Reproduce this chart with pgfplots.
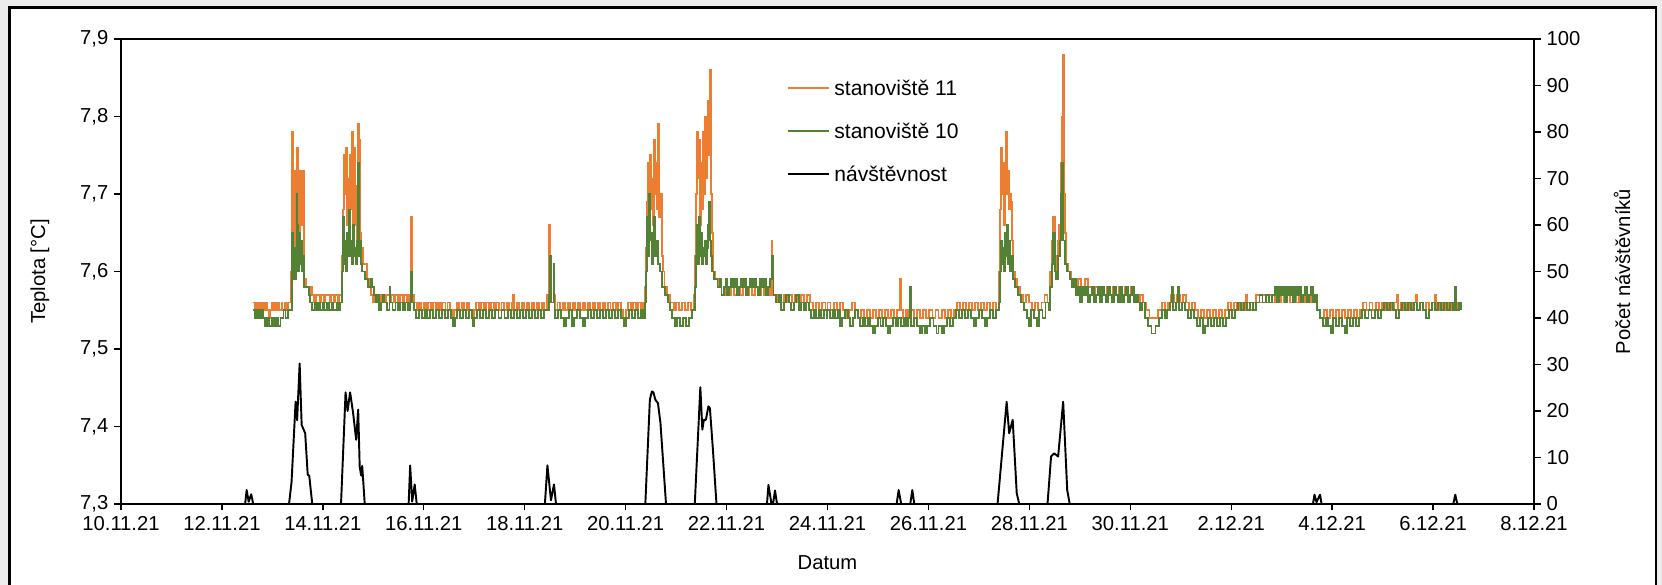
\documentclass[border=0pt]{standalone}
\usepackage{fontspec}
\setmainfont{Liberation Sans}
\usepackage{xcolor}
\usepackage{pgfplots}
\pgfplotsset{compat=1.18}
\definecolor{ORA}{HTML}{ED7D31}
\definecolor{GRN}{HTML}{548235}

\begin{document}
\begin{tikzpicture}
\useasboundingbox (0,0) rectangle (332.4mm,117mm);
\fill[black!7] (0,0) rectangle (332.4mm,117mm);
\draw[fill=white, line width=1.4pt] (1.9mm,-5mm) rectangle (331.2mm,115.5mm);

\pgfplotsset{
  common/.style={
    at={(24.2mm,16.2mm)}, anchor=south west,
    scale only axis, width=282.6mm, height=93mm,
    xmin=0, xmax=28,
    tick align=outside, major tick length=1.3mm,
    axis line style={line width=1pt},
    tick style={black, line width=0.8pt},
    every tick label/.append style={font=\fontsize{11.5}{13}\selectfont},
    /pgf/number format/assume math mode=true,
  },
}

% stanoviste 11 / 10 (temperature), left axis
\begin{axis}[common,
  ymin=7.3, ymax=7.9,
  ytick={7.3,7.4,7.5,7.6,7.7,7.8,7.9},
  yticklabel style={/pgf/number format/.cd, fixed, fixed zerofill, precision=1, use comma},
  xtick={0,2,4,6,8,10,12,14,16,18,20,22,24,26,28},
  xticklabels={10.11.21,12.11.21,14.11.21,16.11.21,18.11.21,20.11.21,22.11.21,24.11.21,26.11.21,28.11.21,30.11.21,2.12.21,4.12.21,6.12.21,8.12.21},
  xtick pos=bottom, ytick pos=left,
]
\addplot[const plot, ORA, line width=1.1pt] coordinates {
(2.62,7.56)(2.66,7.55)(2.69,7.56)(2.71,7.55)(2.75,7.56)(2.77,7.55)(2.81,7.56)(2.83,7.55)(2.88,7.56)(2.90,7.55)(2.94,7.54)(2.96,7.55)(3.00,7.56)(3.02,7.55)(3.06,7.56)(3.08,7.55)(3.12,7.56)(3.14,7.55)(3.18,7.56)(3.20,7.55)(3.24,7.56)(3.27,7.55)(3.30,7.56)
(3.37,7.60)(3.38,7.68)(3.39,7.78)(3.40,7.67)(3.41,7.73)(3.42,7.62)(3.43,7.67)(3.44,7.60)(3.45,7.73)(3.46,7.63)(3.47,7.69)(3.48,7.62)(3.49,7.76)(3.50,7.65)(3.51,7.73)(3.53,7.64)(3.54,7.73)(3.58,7.66)(3.59,7.73)(3.62,7.60)(3.63,7.58)(3.66,7.59)(3.67,7.58)(3.75,7.57)(3.77,7.58)(3.79,7.57)
(3.83,7.56)(3.86,7.57)(3.95,7.56)(3.97,7.57)(4.02,7.56)(4.04,7.57)(4.10,7.57)(4.14,7.56)(4.16,7.57)(4.22,7.56)(4.24,7.57)(4.30,7.56)(4.33,7.57)
(4.38,7.62)(4.40,7.68)(4.42,7.75)(4.44,7.70)(4.46,7.76)(4.48,7.66)(4.50,7.72)(4.52,7.64)(4.54,7.75)(4.56,7.68)(4.58,7.78)(4.60,7.62)(4.62,7.76)(4.64,7.66)(4.66,7.71)(4.68,7.64)(4.70,7.79)(4.72,7.77)(4.74,7.65)(4.76,7.63)(4.80,7.61)(4.88,7.59)(4.92,7.58)
(4.96,7.57)(5.00,7.56)(5.02,7.57)(5.08,7.56)(5.10,7.57)(5.16,7.56)(5.18,7.57)(5.24,7.56)(5.26,7.57)(5.32,7.56)(5.35,7.57)(5.40,7.56)(5.43,7.57)(5.48,7.56)(5.52,7.57)(5.58,7.56)(5.60,7.57)(5.66,7.56)(5.70,7.57)
(5.74,7.67)(5.76,7.57)
(5.80,7.56)(5.86,7.55)(5.90,7.56)(5.95,7.55)(6.00,7.56)(6.05,7.55)(6.09,7.56)(6.14,7.55)(6.18,7.56)(6.24,7.55)(6.28,7.56)(6.33,7.55)(6.37,7.56)(6.43,7.55)(6.47,7.56)(6.52,7.55)(6.57,7.54)(6.60,7.55)(6.65,7.56)(6.70,7.55)(6.75,7.56)(6.80,7.55)(6.85,7.56)(6.90,7.55)(6.96,7.54)(6.99,7.55)(7.04,7.56)(7.09,7.55)(7.14,7.56)(7.19,7.55)(7.24,7.56)(7.29,7.55)(7.34,7.56)(7.39,7.55)(7.44,7.56)(7.49,7.55)(7.54,7.56)(7.59,7.55)(7.64,7.56)(7.69,7.55)(7.74,7.56)(7.77,7.57)(7.79,7.55)(7.84,7.56)(7.89,7.55)(7.94,7.56)(7.99,7.55)(8.04,7.56)(8.09,7.55)(8.14,7.56)(8.19,7.55)(8.24,7.56)(8.29,7.55)(8.34,7.56)(8.38,7.55)
(8.45,7.57)(8.48,7.66)(8.50,7.57)(8.53,7.56)(8.57,7.57)
(8.60,7.55)(8.65,7.56)(8.70,7.55)(8.75,7.56)(8.80,7.55)(8.85,7.56)(8.90,7.55)(8.95,7.56)(9.00,7.55)(9.05,7.56)(9.10,7.55)(9.15,7.56)(9.20,7.55)(9.25,7.56)(9.30,7.55)(9.35,7.56)(9.40,7.55)(9.45,7.56)(9.50,7.55)(9.55,7.56)(9.60,7.55)(9.65,7.56)(9.70,7.55)(9.75,7.56)(9.80,7.55)(9.85,7.56)(9.90,7.55)(9.95,7.54)(10.00,7.55)(10.05,7.56)(10.10,7.55)(10.15,7.56)(10.20,7.55)(10.25,7.56)(10.30,7.55)(10.35,7.56)
(10.39,7.58)(10.41,7.63)(10.43,7.69)(10.45,7.74)(10.47,7.66)(10.49,7.75)(10.51,7.68)(10.53,7.72)(10.55,7.66)(10.57,7.77)(10.59,7.70)(10.61,7.74)(10.63,7.68)(10.65,7.79)(10.67,7.67)(10.70,7.70)(10.72,7.62)(10.74,7.60)(10.77,7.58)(10.82,7.57)
(10.88,7.56)(10.95,7.55)(11.00,7.56)(11.06,7.55)(11.12,7.56)(11.18,7.55)(11.24,7.56)(11.30,7.55)(11.35,7.57)
(11.37,7.62)(11.39,7.70)(11.41,7.78)(11.43,7.72)(11.45,7.77)(11.47,7.66)(11.49,7.74)(11.51,7.68)(11.53,7.78)(11.55,7.70)(11.57,7.80)(11.59,7.72)(11.61,7.78)(11.63,7.82)(11.65,7.75)(11.67,7.86)(11.69,7.70)(11.71,7.65)(11.73,7.60)(11.78,7.59)
(11.84,7.58)(11.90,7.57)(11.96,7.58)(12.02,7.57)(12.08,7.58)(12.14,7.57)(12.20,7.58)(12.26,7.57)(12.32,7.58)(12.38,7.57)(12.44,7.58)(12.50,7.57)(12.56,7.58)(12.62,7.57)(12.68,7.58)(12.74,7.57)(12.80,7.58)(12.86,7.57)
(12.89,7.64)(12.91,7.57)(12.97,7.56)(13.02,7.57)(13.08,7.56)(13.13,7.57)(13.19,7.56)(13.24,7.57)(13.30,7.56)(13.36,7.57)(13.42,7.56)(13.48,7.57)(13.54,7.56)(13.60,7.57)(13.66,7.56)(13.72,7.55)(13.78,7.56)(13.84,7.55)(13.90,7.56)(13.96,7.55)
(14.00,7.56)(14.06,7.55)(14.12,7.56)(14.18,7.55)(14.24,7.56)(14.30,7.55)(14.36,7.54)(14.42,7.55)(14.48,7.56)(14.54,7.55)(14.60,7.54)(14.66,7.55)(14.72,7.54)(14.78,7.55)(14.84,7.54)(14.90,7.55)(14.96,7.54)(15.02,7.55)(15.08,7.54)(15.14,7.55)(15.20,7.54)(15.26,7.55)(15.32,7.54)(15.38,7.55)(15.43,7.59)(15.45,7.55)(15.50,7.54)
(15.55,7.55)(15.60,7.54)(15.66,7.55)(15.72,7.54)(15.78,7.55)(15.84,7.54)(15.90,7.55)(15.96,7.54)(16.02,7.55)(16.08,7.54)(16.14,7.55)(16.20,7.54)(16.26,7.55)(16.32,7.54)(16.38,7.55)(16.44,7.54)(16.50,7.55)(16.56,7.56)(16.62,7.55)(16.68,7.56)(16.74,7.55)
(16.80,7.56)(16.86,7.55)(16.92,7.56)(16.98,7.55)(17.04,7.56)(17.10,7.55)(17.16,7.56)(17.22,7.55)(17.28,7.56)(17.34,7.55)
(17.40,7.60)(17.42,7.68)(17.44,7.76)(17.46,7.70)(17.48,7.74)(17.50,7.66)(17.52,7.72)(17.54,7.78)(17.56,7.70)(17.58,7.73)(17.60,7.68)(17.62,7.70)(17.64,7.69)(17.66,7.64)(17.68,7.60)(17.72,7.59)(17.76,7.58)
(17.82,7.57)(17.88,7.56)(17.94,7.57)(18.00,7.56)(18.06,7.55)(18.12,7.56)(18.18,7.55)(18.24,7.56)(18.30,7.57)(18.36,7.56)
(18.40,7.60)(18.44,7.64)(18.47,7.67)(18.50,7.62)(18.53,7.60)(18.56,7.64)(18.59,7.66)(18.62,7.74)(18.64,7.80)(18.66,7.88)(18.68,7.70)(18.70,7.65)(18.73,7.61)(18.77,7.60)
(18.82,7.59)(18.90,7.58)(18.96,7.59)(19.02,7.58)(19.10,7.59)(19.16,7.58)(19.24,7.57)(19.30,7.58)(19.36,7.57)(19.42,7.58)(19.48,7.57)(19.54,7.58)(19.60,7.57)(19.66,7.58)(19.72,7.57)(19.78,7.58)(19.84,7.57)(19.90,7.58)(19.96,7.57)(20.02,7.58)(20.08,7.57)(20.14,7.56)(20.20,7.57)(20.26,7.56)
(20.32,7.55)(20.38,7.54)(20.46,7.54)(20.54,7.55)(20.62,7.56)(20.68,7.55)
(20.74,7.56)(20.80,7.57)(20.86,7.56)(20.92,7.57)(20.98,7.56)(21.04,7.57)(21.10,7.56)(21.16,7.55)(21.22,7.56)(21.28,7.55)
(21.34,7.54)(21.40,7.55)(21.46,7.54)(21.52,7.55)(21.58,7.54)(21.64,7.55)(21.70,7.54)(21.76,7.55)(21.82,7.54)(21.88,7.55)
(21.94,7.56)(22.00,7.55)(22.06,7.56)(22.12,7.55)(22.18,7.56)(22.24,7.55)(22.30,7.57)(22.32,7.56)(22.38,7.55)(22.44,7.56)(22.50,7.57)(22.56,7.56)(22.62,7.57)(22.68,7.56)(22.74,7.57)(22.80,7.56)(22.86,7.57)(22.92,7.56)(22.98,7.57)(23.04,7.56)(23.10,7.57)(23.16,7.56)(23.22,7.57)(23.28,7.56)(23.34,7.57)(23.40,7.56)(23.46,7.57)(23.52,7.56)(23.58,7.57)(23.64,7.56)
(23.70,7.55)(23.76,7.54)(23.84,7.55)(23.90,7.54)(23.96,7.55)(24.02,7.54)(24.08,7.55)(24.14,7.54)(24.20,7.55)(24.26,7.54)(24.32,7.55)(24.38,7.54)(24.44,7.55)(24.50,7.54)(24.56,7.55)
(24.62,7.56)(24.68,7.55)(24.74,7.56)(24.80,7.55)(24.86,7.56)(24.92,7.55)(24.98,7.56)(25.04,7.55)(25.10,7.56)(25.16,7.55)(25.22,7.56)(25.28,7.57)(25.30,7.55)(25.36,7.56)(25.42,7.55)(25.48,7.56)(25.54,7.55)(25.60,7.56)(25.66,7.57)(25.68,7.55)(25.74,7.56)(25.80,7.55)(25.86,7.56)(25.92,7.55)(25.98,7.56)(26.04,7.57)(26.06,7.55)(26.12,7.56)(26.18,7.55)(26.24,7.56)(26.30,7.55)(26.36,7.56)(26.42,7.55)(26.48,7.56)(26.55,7.55)
};
\addplot[const plot, GRN, line width=1.1pt] coordinates {
(2.62,7.55)(2.66,7.54)(2.70,7.55)(2.74,7.54)(2.78,7.55)(2.82,7.54)(2.86,7.53)(2.90,7.54)(2.94,7.53)(3.00,7.54)(3.04,7.53)(3.08,7.54)(3.12,7.53)(3.16,7.54)(3.22,7.55)(3.26,7.54)(3.30,7.55)
(3.37,7.55)(3.38,7.60)(3.39,7.65)(3.40,7.59)(3.41,7.62)(3.42,7.60)(3.43,7.63)(3.44,7.59)(3.46,7.62)(3.47,7.60)(3.48,7.70)(3.49,7.63)(3.50,7.66)(3.51,7.60)(3.52,7.65)(3.54,7.61)(3.56,7.64)(3.58,7.60)(3.60,7.62)(3.62,7.58)(3.72,7.57)(3.75,7.56)(3.78,7.55)
(3.85,7.56)(3.88,7.55)(3.92,7.56)(3.95,7.55)(4.00,7.56)(4.03,7.55)(4.08,7.56)(4.12,7.55)(4.18,7.56)(4.21,7.55)(4.27,7.56)(4.30,7.55)(4.34,7.56)
(4.38,7.60)(4.40,7.67)(4.42,7.61)(4.44,7.64)(4.46,7.60)(4.48,7.65)(4.50,7.62)(4.52,7.68)(4.54,7.62)(4.56,7.64)(4.58,7.61)(4.60,7.66)(4.62,7.62)(4.64,7.63)(4.66,7.61)(4.68,7.64)(4.70,7.74)(4.72,7.62)(4.74,7.64)(4.76,7.61)(4.78,7.60)(4.84,7.59)(4.90,7.58)(4.96,7.59)(4.98,7.58)
(5.02,7.57)(5.05,7.56)(5.08,7.57)(5.12,7.55)(5.15,7.56)(5.20,7.57)(5.22,7.56)(5.28,7.55)(5.32,7.58)(5.34,7.56)(5.38,7.55)(5.44,7.56)(5.48,7.55)(5.52,7.56)(5.58,7.55)(5.62,7.56)(5.68,7.55)
(5.72,7.56)(5.75,7.60)(5.77,7.56)
(5.80,7.55)(5.85,7.54)(5.90,7.55)(5.96,7.54)(6.02,7.55)(6.07,7.54)(6.12,7.55)(6.18,7.54)(6.24,7.55)(6.30,7.54)(6.36,7.55)(6.42,7.54)(6.48,7.55)(6.54,7.54)(6.57,7.53)(6.61,7.54)(6.66,7.55)(6.72,7.54)(6.78,7.55)(6.84,7.54)(6.90,7.55)(6.95,7.54)(6.98,7.53)(7.00,7.54)(7.06,7.55)(7.12,7.54)(7.18,7.55)(7.24,7.54)(7.30,7.55)(7.36,7.54)(7.42,7.55)(7.48,7.54)(7.54,7.55)(7.60,7.54)(7.66,7.55)(7.72,7.54)(7.78,7.55)(7.84,7.54)(7.90,7.55)(7.96,7.54)(8.02,7.55)(8.08,7.54)(8.14,7.55)(8.20,7.54)(8.26,7.55)(8.32,7.54)(8.38,7.55)
(8.44,7.55)(8.49,7.57)(8.50,7.62)(8.52,7.56)(8.57,7.61)(8.59,7.55)
(8.60,7.54)(8.66,7.55)(8.72,7.54)(8.78,7.53)(8.82,7.54)(8.88,7.55)(8.94,7.53)(8.98,7.54)(9.04,7.55)(9.10,7.54)(9.15,7.53)(9.19,7.54)(9.25,7.55)(9.31,7.54)(9.37,7.55)(9.43,7.54)(9.49,7.55)(9.55,7.54)(9.61,7.55)(9.67,7.54)(9.73,7.55)(9.79,7.54)(9.85,7.55)(9.91,7.54)(9.96,7.53)(10.00,7.54)(10.06,7.55)(10.12,7.54)(10.18,7.55)(10.24,7.54)(10.30,7.55)(10.35,7.54)
(10.39,7.56)(10.41,7.60)(10.43,7.67)(10.45,7.62)(10.47,7.70)(10.49,7.64)(10.51,7.65)(10.53,7.61)(10.55,7.63)(10.57,7.67)(10.59,7.62)(10.62,7.64)(10.65,7.61)(10.68,7.60)(10.72,7.58)(10.78,7.57)(10.84,7.56)
(10.88,7.55)(10.92,7.54)(10.98,7.53)(11.02,7.54)(11.08,7.53)(11.14,7.54)(11.20,7.53)(11.26,7.54)(11.32,7.55)
(11.37,7.58)(11.39,7.62)(11.41,7.66)(11.43,7.61)(11.45,7.67)(11.47,7.62)(11.49,7.65)(11.51,7.61)(11.53,7.63)(11.55,7.62)(11.57,7.64)(11.59,7.61)(11.61,7.63)(11.63,7.66)(11.65,7.69)(11.67,7.64)(11.69,7.62)(11.72,7.60)(11.76,7.59)
(11.82,7.58)(11.87,7.59)(11.90,7.57)(11.94,7.58)(11.98,7.59)(12.01,7.57)(12.05,7.58)(12.09,7.59)(12.12,7.58)(12.16,7.59)(12.20,7.57)(12.24,7.58)(12.28,7.59)(12.31,7.58)(12.35,7.59)(12.39,7.57)(12.43,7.58)(12.47,7.59)(12.50,7.58)(12.54,7.59)(12.58,7.58)(12.62,7.57)(12.66,7.59)(12.70,7.58)(12.74,7.59)(12.78,7.57)(12.82,7.58)(12.86,7.59)
(12.90,7.62)(12.93,7.57)(12.98,7.56)(13.03,7.57)(13.08,7.55)(13.13,7.56)(13.18,7.57)(13.23,7.56)(13.28,7.55)(13.33,7.56)(13.38,7.57)(13.43,7.55)(13.48,7.56)(13.53,7.55)(13.58,7.56)(13.63,7.55)(13.68,7.54)(13.73,7.55)(13.78,7.54)(13.83,7.55)(13.88,7.54)(13.93,7.55)(13.98,7.54)
(14.00,7.55)(14.05,7.54)(14.10,7.55)(14.15,7.54)(14.20,7.55)(14.25,7.53)(14.29,7.54)(14.35,7.55)(14.40,7.54)(14.45,7.53)(14.50,7.54)(14.55,7.55)(14.60,7.54)(14.65,7.53)(14.70,7.54)(14.75,7.53)(14.80,7.54)(14.85,7.53)(14.90,7.52)(14.94,7.53)(15.00,7.54)(15.05,7.53)(15.10,7.54)(15.15,7.53)(15.20,7.52)(15.24,7.53)(15.30,7.54)(15.35,7.53)(15.40,7.54)(15.46,7.53)(15.52,7.54)
(15.55,7.53)(15.60,7.54)(15.64,7.58)(15.66,7.53)(15.72,7.54)(15.78,7.53)(15.84,7.52)(15.88,7.53)(15.94,7.52)(15.98,7.53)(16.04,7.54)(16.10,7.53)(16.16,7.52)(16.20,7.53)(16.26,7.52)(16.30,7.53)(16.36,7.54)(16.42,7.53)(16.48,7.54)(16.54,7.55)(16.60,7.54)(16.66,7.55)(16.72,7.54)
(16.78,7.55)(16.84,7.54)(16.90,7.53)(16.94,7.54)(17.00,7.55)(17.06,7.54)(17.12,7.53)(17.16,7.54)(17.22,7.55)(17.28,7.54)(17.34,7.55)
(17.40,7.56)(17.42,7.60)(17.44,7.64)(17.46,7.61)(17.48,7.63)(17.50,7.60)(17.52,7.65)(17.54,7.62)(17.56,7.66)(17.58,7.61)(17.60,7.64)(17.62,7.60)(17.65,7.62)(17.68,7.59)(17.72,7.58)(17.78,7.57)
(17.84,7.56)(17.90,7.55)(17.96,7.54)(18.00,7.53)(18.04,7.55)(18.10,7.54)(18.16,7.53)(18.20,7.55)(18.26,7.54)(18.32,7.56)(18.38,7.55)
(18.40,7.58)(18.44,7.61)(18.47,7.65)(18.50,7.60)(18.53,7.59)(18.56,7.62)(18.60,7.64)(18.63,7.70)(18.65,7.74)(18.67,7.64)(18.70,7.61)(18.74,7.60)
(18.80,7.59)(18.84,7.58)(18.88,7.59)(18.92,7.57)(18.96,7.58)(19.00,7.56)(19.04,7.58)(19.08,7.57)(19.12,7.58)(19.16,7.56)(19.20,7.57)(19.24,7.58)(19.28,7.56)(19.32,7.57)(19.36,7.58)(19.40,7.56)(19.44,7.58)(19.48,7.57)(19.52,7.56)(19.56,7.58)(19.60,7.57)(19.64,7.56)(19.68,7.58)(19.72,7.57)(19.76,7.56)(19.80,7.58)(19.84,7.56)(19.88,7.57)(19.92,7.58)(19.96,7.56)(20.00,7.57)(20.04,7.58)(20.08,7.56)(20.12,7.57)(20.16,7.56)(20.20,7.55)(20.24,7.56)
(20.30,7.54)(20.36,7.53)(20.42,7.52)(20.50,7.53)(20.56,7.54)(20.62,7.55)(20.68,7.54)
(20.72,7.55)(20.78,7.56)(20.82,7.58)(20.84,7.55)(20.90,7.56)(20.94,7.58)(20.96,7.55)(21.02,7.56)(21.08,7.55)(21.14,7.54)(21.20,7.55)(21.26,7.54)
(21.32,7.53)(21.38,7.54)(21.44,7.52)(21.48,7.53)(21.54,7.54)(21.60,7.53)(21.66,7.54)(21.72,7.53)(21.78,7.54)(21.84,7.53)(21.90,7.54)
(21.96,7.55)(22.02,7.54)(22.08,7.55)(22.14,7.56)(22.20,7.55)(22.26,7.56)(22.32,7.55)(22.38,7.56)(22.44,7.55)(22.50,7.56)(22.56,7.57)(22.62,7.56)(22.68,7.57)(22.74,7.56)(22.80,7.57)(22.86,7.58)(22.90,7.56)(22.94,7.58)(22.98,7.57)(23.02,7.58)(23.06,7.56)(23.10,7.58)(23.14,7.57)(23.18,7.58)(23.22,7.56)(23.26,7.58)(23.30,7.57)(23.34,7.58)(23.38,7.56)(23.42,7.57)(23.46,7.58)(23.50,7.56)(23.54,7.57)(23.58,7.58)(23.62,7.56)(23.66,7.57)
(23.70,7.55)(23.76,7.54)(23.82,7.53)(23.88,7.54)(23.92,7.53)(23.98,7.52)(24.02,7.54)(24.08,7.53)(24.14,7.54)(24.20,7.53)(24.26,7.52)(24.30,7.54)(24.36,7.53)(24.42,7.54)(24.48,7.53)(24.54,7.54)
(24.60,7.55)(24.66,7.54)(24.72,7.55)(24.78,7.54)(24.84,7.55)(24.90,7.54)(24.96,7.55)(25.02,7.56)(25.08,7.55)(25.14,7.56)(25.20,7.55)(25.26,7.54)(25.32,7.55)(25.38,7.56)(25.44,7.55)(25.50,7.56)(25.56,7.55)(25.62,7.56)(25.68,7.55)(25.74,7.56)(25.80,7.55)(25.86,7.54)(25.92,7.55)(25.98,7.56)(26.04,7.55)(26.10,7.56)(26.16,7.55)(26.22,7.56)(26.28,7.55)(26.34,7.56)(26.40,7.55)(26.44,7.58)(26.46,7.55)(26.52,7.56)(26.55,7.55)
};
\end{axis}

% navstevnost, right axis
\begin{axis}[common,
  ymin=0, ymax=100,
  ytick={0,10,20,30,40,50,60,70,80,90,100},
  axis x line=none, axis y line*=right,
]
\addplot[black, line width=1.1pt, line join=round] coordinates {
(0,0)(2.46,0)(2.49,3.0)(2.53,0.5)(2.58,2.1)(2.62,0)
(3.33,0)(3.38,4.8)(3.46,22)(3.49,18)(3.54,30.2)(3.58,17)(3.65,15.2)(3.70,6.3)(3.73,6.1)(3.79,0)
(4.36,0)(4.45,24)(4.49,20)(4.54,24)(4.60,19.5)(4.66,13.8)(4.70,20.3)(4.73,8)(4.76,6.1)(4.78,8.2)(4.83,0)
(5.70,0)(5.73,8.3)(5.77,0.5)(5.82,4.2)(5.86,0)
(8.40,0)(8.45,8.3)(8.52,0.8)(8.58,4.2)(8.62,0)
(10.39,0)(10.48,22.4)(10.52,24.2)(10.55,24)(10.59,22.4)(10.64,21.7)(10.69,17.4)(10.80,0)
(11.37,0)(11.48,25.1)(11.52,16)(11.55,18.1)(11.59,18.1)(11.64,21)(11.67,20.6)(11.73,11.6)(11.80,0)
(12.80,0)(12.83,4.1)(12.89,0)(12.92,0)(12.96,2.9)(13.00,0)
(15.37,0)(15.41,3)(15.46,0)(15.64,0)(15.68,3)(15.72,0)
(17.37,0)(17.55,22)(17.60,15.2)(17.67,18.1)(17.75,2.3)(17.80,0)
(18.36,0)(18.43,10.2)(18.49,10.9)(18.57,10.2)(18.67,22)(18.75,3)(18.80,0)
(23.62,0)(23.65,2)(23.69,0.4)(23.76,2)(23.79,0)
(26.40,0)(26.44,2)(26.48,0)(26.55,0)
};
\end{axis}

% legend
\draw[ORA, line width=1.1pt] (157.5mm,99.4mm) -- (165.8mm,99.4mm);
\draw[GRN, line width=1.1pt] (157.5mm,90.8mm) -- (165.8mm,90.8mm);
\draw[black, line width=1.1pt] (157.5mm,82.2mm) -- (165.8mm,82.2mm);
\begin{scope}[every node/.style={anchor=west, inner sep=0pt, font=\fontsize{12}{14}\selectfont}]
\node at (166.8mm,99.4mm) {stanoviště 11};
\node at (166.8mm,90.8mm) {stanoviště 10};
\node at (166.8mm,82.2mm) {návštěvnost};
\end{scope}

% axis titles
\node[rotate=90, font=\fontsize{11.5}{13}\selectfont] at (8mm,62.7mm) {Teplota [°C]};
\node[rotate=90, font=\fontsize{11.5}{13}\selectfont] at (324.4mm,62.7mm) {Počet návštěvníků};
\node[font=\fontsize{11.5}{13}\selectfont] at (165.5mm,4.4mm) {Datum};
\end{tikzpicture}
\end{document}
